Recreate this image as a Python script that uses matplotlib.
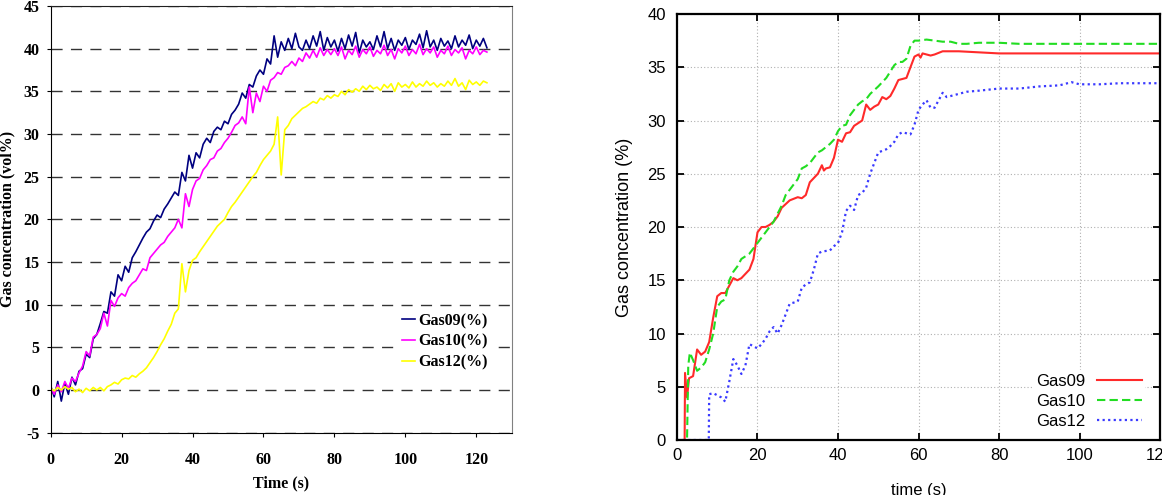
import numpy as np
import matplotlib
matplotlib.use("Agg")
import matplotlib.pyplot as plt

plt.rcParams["axes.unicode_minus"] = False

# ---- left panel: raw measurements, one sample per second ----
time_raw = np.arange(0, 124)
gas09_raw = [0.5, -0.8, 1.0, -1.3, 0.8, -0.5, 1.5, 0.6, 2.2, 2.5,
             4.2, 3.8, 6.0, 6.5, 7.8, 9.2, 9.0, 11.5, 11.0, 13.5,
             12.8, 14.5, 13.8, 15.5, 16.2, 17.0, 17.8, 18.5, 18.9, 19.8,
             20.5, 20.2, 21.2, 21.8, 22.5, 23.2, 22.8, 25.5, 24.5, 27.5,
             26.0, 27.8, 27.2, 28.8, 29.5, 29.0, 30.3, 30.8, 30.5, 31.5,
             31.2, 32.3, 32.8, 33.5, 34.8, 34.2, 35.8, 35.5, 36.8, 37.5,
             37.0, 38.8, 38.2, 41.5, 39.0, 40.8, 39.8, 41.2, 40.0, 41.8,
             40.2, 39.8, 41.0, 40.0, 41.5, 40.3, 42.0, 39.8, 41.3, 40.2,
             41.0, 39.7, 41.2, 40.0, 41.6, 40.3, 41.9, 39.5, 41.0, 40.2,
             40.8, 39.9, 41.5, 40.2, 42.0, 40.0, 41.2, 39.8, 41.0, 40.4,
             41.3, 39.9, 41.0, 40.5, 41.7, 40.1, 42.1, 40.2, 41.0, 39.8,
             41.2, 40.3, 40.9, 40.0, 41.5, 40.2, 41.0, 40.4, 41.6, 40.0,
             41.0, 40.3, 41.2, 40.1]
gas10_raw = [0.3, -0.5, 0.6, -0.2, 1.0, 0.2, 1.4, 1.0, 2.0, 2.8,
             4.5, 4.0, 6.2, 6.5, 7.2, 9.0, 7.5, 10.5, 9.8, 10.8,
             11.3, 11.0, 12.0, 12.5, 12.8, 13.5, 14.2, 14.0, 15.5, 16.0,
             16.5, 17.0, 17.3, 18.0, 18.5, 19.0, 20.0, 19.0, 23.0, 21.5,
             23.5, 24.5, 24.8, 25.8, 26.3, 27.0, 27.2, 28.0, 28.3, 29.0,
             29.5, 30.2, 31.0, 31.3, 32.0, 31.2, 35.5, 32.5, 34.8, 33.8,
             35.6, 35.0, 36.3, 36.6, 37.2, 37.0, 37.8, 38.0, 38.5, 38.0,
             38.9, 38.5, 39.5, 38.9, 39.8, 39.0, 40.1, 39.2, 39.9, 39.3,
             40.0, 39.2, 40.2, 38.8, 39.8, 39.3, 40.3, 39.0, 39.9, 39.4,
             40.2, 39.1, 39.8, 39.4, 40.4, 39.2, 39.9, 38.8, 40.0, 39.5,
             40.3, 39.2, 39.9, 39.4, 40.5, 39.3, 40.0, 39.5, 40.2, 39.0,
             39.8, 39.4, 40.3, 39.2, 39.9, 39.5, 40.1, 38.8, 39.8, 39.4,
             40.2, 39.3, 39.8, 39.6]
gas12_raw = [0.2, -0.1, 0.3, 0.0, 0.4, 0.1, 0.3, -0.2, 0.1, -0.3,
             0.2, -0.1, 0.3, 0.0, 0.3, -0.1, 0.4, 0.6, 0.9, 0.7,
             1.2, 1.4, 1.3, 1.7, 1.5, 1.9, 2.2, 2.6, 3.2, 3.8,
             4.5, 5.3, 6.0, 6.9, 7.7, 9.0, 9.5, 14.8, 11.5, 14.0,
             15.2, 15.5, 16.2, 16.8, 17.4, 18.0, 18.6, 19.2, 19.6, 20.0,
             20.8, 21.5, 22.0, 22.6, 23.2, 23.8, 24.4, 25.0, 25.5, 26.3,
             27.0, 27.5, 28.0, 28.8, 32.0, 25.2, 30.5, 31.0, 31.8, 32.2,
             32.6, 33.0, 33.2, 33.5, 33.8, 33.6, 34.2, 34.0, 34.5, 34.2,
             34.6, 34.4, 35.0, 34.6, 35.2, 34.9, 35.3, 35.0, 35.6, 35.2,
             35.7, 35.3, 35.5, 35.1, 35.8, 35.4, 35.9, 35.0, 36.0, 35.5,
             35.8, 35.4, 36.1, 35.5, 35.9, 35.6, 36.2, 35.7, 36.0, 35.5,
             35.9, 35.6, 36.2, 35.7, 36.5, 35.6, 36.0, 35.2, 36.3, 35.8,
             36.1, 35.7, 36.2, 36.0]
raw_labels = ["Gas09(%)", "Gas10(%)", "Gas12(%)"]

# ---- right panel: simulated curves ----
t09 = [0, 1.9, 2.0, 2.5, 3, 4, 5, 6, 7, 8, 9, 10, 11, 12, 13, 14, 15, 16, 18, 19,
       20, 21, 22, 23, 24, 25, 26, 28, 30, 31, 32, 33, 34, 35, 36, 36.5, 37, 38,
       39, 40, 41, 42, 43, 44, 46, 47, 48, 49, 50, 51, 52, 53, 54, 55, 57, 58,
       59, 60, 60.5, 61, 62, 63, 64, 66, 70, 80, 90, 100, 120]
s09 = [0, 0, 6.3, 4.0, 5.8, 6.0, 8.5, 8.0, 8.3, 9.2, 11.5, 13.5, 13.8, 13.8, 14.5,
       15.2, 15.0, 15.2, 16.0, 17.0, 19.5, 20.0, 20.0, 20.2, 20.5, 21.0, 21.8, 22.5,
       22.8, 22.7, 23.0, 24.2, 24.6, 25.0, 25.8, 25.3, 25.5, 25.6, 26.5, 28.2, 28.0,
       28.8, 28.9, 29.5, 30.0, 31.5, 31.0, 31.3, 31.5, 32.2, 32.0, 32.3, 33.0, 33.8,
       34.0, 35.0, 36.0, 36.2, 35.9, 36.3, 36.2, 36.1, 36.2, 36.5, 36.5, 36.3, 36.3,
       36.3, 36.3]
t10 = [0, 2.5, 2.8, 3.2, 4, 5, 6, 7, 8, 9, 10, 11, 12, 13, 14, 15, 16, 18, 20, 22,
       24, 26, 27, 28, 30, 31, 32, 33, 34, 35, 36, 38, 39, 40, 41, 42, 43, 44, 45,
       46, 47, 48, 50, 52, 54, 55, 56, 57, 58, 59, 60, 62, 64, 66, 68, 70, 72, 75,
       80, 85, 90, 100, 120]
s10 = [0, 0, 7.0, 8.2, 7.5, 6.5, 6.8, 7.3, 8.5, 10.0, 12.5, 13.0, 13.2, 15.0, 15.8,
       16.3, 17.0, 17.5, 18.5, 19.5, 20.5, 22.0, 23.0, 23.5, 24.5, 25.5, 25.7, 26.0,
       26.5, 27.0, 27.2, 27.8, 28.2, 29.0, 29.5, 29.6, 30.5, 31.0, 31.5, 31.8, 32.0,
       32.5, 33.2, 34.0, 35.2, 35.5, 35.5, 35.8, 37.0, 37.5, 37.5, 37.6, 37.5, 37.4,
       37.4, 37.2, 37.2, 37.3, 37.3, 37.2, 37.2, 37.2, 37.2]
t12 = [0, 7.9, 8, 9, 10, 11, 12, 13, 14, 15, 16, 17, 18, 19, 20, 21, 22, 23, 24, 25,
       26, 27, 28, 29, 30, 31, 32, 33, 34, 35, 36, 38, 39, 40, 41, 42, 43, 44, 45,
       46, 47, 48, 49, 50, 52, 53, 54, 55, 56, 58, 59, 60, 61, 62, 63, 64, 66, 67,
       70, 72, 75, 80, 85, 90, 95, 98, 100, 105, 110, 120]
s12 = [0, 0, 4.3, 4.4, 4.2, 4.0, 3.6, 5.5, 7.6, 7.0, 6.2, 7.0, 9.0, 8.8, 8.6, 9.0,
       9.5, 10.2, 10.6, 10.0, 10.8, 11.8, 12.8, 12.9, 13.0, 14.3, 14.6, 14.8, 16.0,
       17.5, 17.7, 17.8, 18.2, 18.5, 19.5, 21.5, 22.0, 21.6, 23.0, 23.2, 23.7, 25.0,
       26.0, 27.0, 27.3, 27.6, 28.0, 28.7, 28.9, 28.7, 29.6, 31.0, 31.5, 31.9, 31.2,
       31.2, 32.6, 32.2, 32.5, 32.7, 32.8, 33.0, 33.0, 33.2, 33.3, 33.6, 33.4, 33.4,
       33.5, 33.5]
sim_labels = ["Gas09", "Gas10", "Gas12"]

fig = plt.figure(figsize=(11.62, 4.95), dpi=100)

# left: excel-style chart
serif = ["Liberation Serif", "DejaVu Serif"]
ax1 = fig.add_axes([0.0436, 0.1259, 0.3968, 0.862])
ax1.plot(time_raw, gas09_raw, color="#000080", lw=1.2, label=raw_labels[0])
ax1.plot(time_raw, gas10_raw, color="#ff00ff", lw=1.2, label=raw_labels[1])
ax1.plot(time_raw, gas12_raw, color="#ffff00", lw=1.2, label=raw_labels[2])
ax1.set_xlim(0, 130)
ax1.set_ylim(-5, 45)
ax1.set_xticks(range(0, 121, 20))
ax1.set_yticks(range(-5, 46, 5))
ax1.yaxis.grid(True, color="#333333", lw=1.0, linestyle=(0, (8, 6)))
ax1.set_axisbelow(True)
ax1.spines["right"].set_color("#808080")
ax1.spines["top"].set_color("#202020")
ax1.tick_params(axis="y", direction="out", length=3, pad=5)
ax1.tick_params(axis="x", direction="out", length=3, pad=11)
for lab in ax1.get_xticklabels() + ax1.get_yticklabels():
    lab.set_family(serif)
    lab.set_fontweight("bold")
    lab.set_fontsize(11.5)
ax1.set_xlabel("Time (s)", family=serif, fontweight="bold", fontsize=11.5, labelpad=5)
ax1.set_ylabel("Gas concentration (vol%)", family=serif, fontweight="bold", fontsize=11.5, labelpad=6)
leg1 = ax1.legend(loc="center left", bbox_to_anchor=(0.735, 0.213), frameon=True,
                  facecolor="white", edgecolor="none", framealpha=1, fancybox=False,
                  handlelength=0.8, handletextpad=0.2, labelspacing=0.3, borderpad=0.3,
                  prop={"family": serif, "weight": "bold", "size": 11.5})

# right: gnuplot-style chart
sans = ["Liberation Sans", "DejaVu Sans"]
ax2 = fig.add_axes([0.5826, 0.1111, 0.4157, 0.8606])
ax2.plot(t09, s09, color="#ff2a2a", lw=1.5, label=sim_labels[0])
ax2.plot(t10, s10, color="#22dd22", lw=1.5, linestyle=(0, (4, 2)), label=sim_labels[1])
ax2.plot(t12, s12, color="#3a3aff", lw=1.6, linestyle=(0, (1, 1.5)), label=sim_labels[2])
ax2.set_xlim(0, 120)
ax2.set_ylim(0, 40)
ax2.set_xticks(range(0, 121, 20))
ax2.set_yticks(range(0, 41, 5))
ax2.grid(True, color="#b0b0b0", lw=0.8, linestyle=(0, (1, 2)))
ax2.set_axisbelow(True)
for s in ax2.spines.values():
    s.set_linewidth(1.6)
ax2.tick_params(direction="in", length=5, width=1.3, top=True, right=True)
ax2.tick_params(axis="y", pad=8)
ax2.tick_params(axis="x", pad=6)
for lab in ax2.get_xticklabels() + ax2.get_yticklabels():
    lab.set_family(sans)
    lab.set_fontsize(12)
ax2.set_xlabel("time (s)", family=sans, fontsize=12, labelpad=14)
ax2.set_ylabel("Gas concentration (%)", family=sans, fontsize=13, labelpad=10)
leg2 = ax2.legend(loc="center right", bbox_to_anchor=(0.986, 0.0915), markerfirst=False,
                  frameon=True, facecolor="white", edgecolor="none", framealpha=1,
                  fancybox=False, handlelength=2.7, handletextpad=0.7, labelspacing=0.3,
                  borderpad=0.2, prop={"family": sans, "size": 12})

fig.savefig("out.png", dpi=100)
